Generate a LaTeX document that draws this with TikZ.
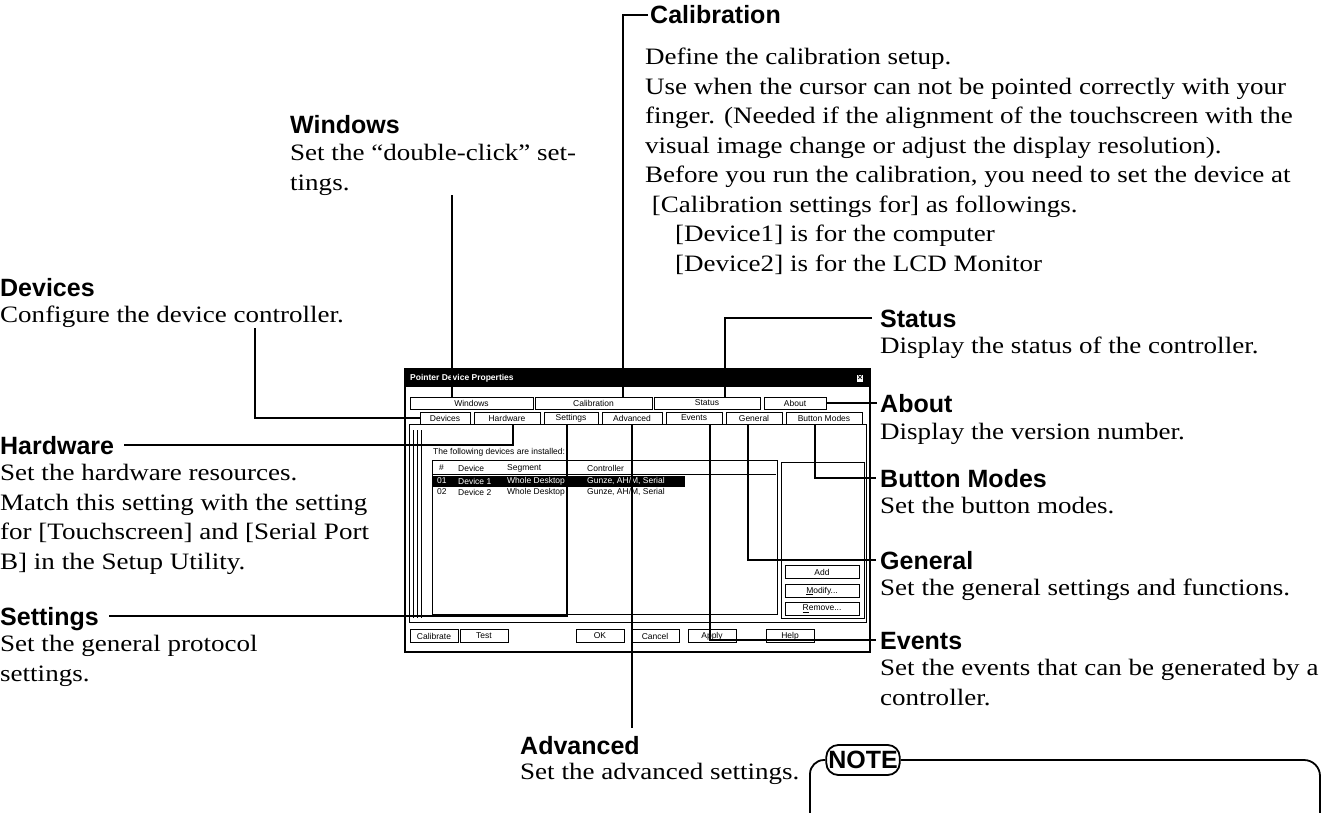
\documentclass[tikz,border=0pt]{standalone}
\usepackage{fontspec}
\setmainfont{Liberation Serif}[FakeStretch=1.15]
\newfontfamily\hsans{Liberation Sans}
\usetikzlibrary{positioning, calc}

\newcommand{\headfont}{\hsans\bfseries\fontsize{25}{28}\selectfont}
\newcommand{\bodyfont}{\rmfamily\fontsize{23.5}{29.5}\selectfont}
\newcommand{\dlgfont}{\hsans\fontsize{8.5}{9}\selectfont}

\tikzset{
  every picture/.style={x=1pt, y=-1pt},
  head/.style={font=\headfont, anchor=base west, inner sep=0pt, text height=18pt, text depth=0pt},
  body/.style={font=\bodyfont, anchor=north west, align=left, inner sep=0pt},
  lead/.style={line width=1.8pt},
  tab/.style={draw, line width=0.7pt, font=\dlgfont, inner sep=0pt, minimum height=12pt, minimum width=#1},
  tab/.default=56pt,
  btn/.style={draw, line width=0.9pt, font=\dlgfont, inner sep=0pt, minimum height=13pt, minimum width=#1},
  btn/.default=50pt,
  cell/.style={font=\dlgfont, anchor=west, inner sep=0pt},
}

\begin{document}
\begin{tikzpicture}
\useasboundingbox (0,0) rectangle (1338,813);

% the dialog
\draw[line width=1.2pt] (405,369) rectangle (870,652);
\fill (406,370) rectangle (869,387);
\node[cell, text=white, font=\dlgfont\bfseries] (dlgT) at (410,378.5) {Pointer Device Properties};
\node[fill=white, inner sep=0.6pt, font=\dlgfont\bfseries] (dlgX) at (860,378.5) {×};

\foreach \n/\t/\x/\w in {tWin/Windows/471.5/123, tCal/Calibration/593.5/117, tSta/Status/707/106, tAbo/About/795/62}
  \node[tab=\w pt] (\n) at (\x,403) {\t};
\foreach \n/\t/\x/\w in {tDev/Devices/445/50, tHw/Hardware/507/66, tSet/Settings/571/54, tAdv/Advanced/632/60,
                         tEv/Events/694/56, tGen/General/754/56, tBm/Button Modes/824/76}
  \node[tab=\w pt, fill=white] (\n) at (\x,418) {\t};

\draw[line width=0.8pt] (409,424.5) rectangle (866,622);
\draw[line width=0.6pt] (413,430) -- (413,618) (417,430) -- (417,618) (421,430) -- (421,618);
\node[cell] (lbl) at (433,452) {The following devices are installed:};
\draw[line width=0.9pt] (432,460) rectangle (777,614);
\foreach \t/\x [count=\i] in {\#/439, Device/458, Segment/507, Controller/587}
  \node[cell] (hd\i) at (\x,468) {\t};
\draw[line width=0.5pt] (433,474.5) -- (776,474.5);
\fill (433,475.5) rectangle (685,486.5);
\foreach \t/\x [count=\i] in {01/437, Device 1/458, Whole Desktop/507, {Gunze, AH/M, Serial}/587}
  \node[cell, text=white] (ra\i) at (\x,481) {\t};
\foreach \t/\x [count=\i] in {02/437, Device 2/458, Whole Desktop/507, {Gunze, AH/M, Serial}/587}
  \node[cell] (rb\i) at (\x,492) {\t};
\draw[line width=0.6pt] (781,462) rectangle (864,618);
\node[btn=74pt] (bAdd) at (822,572) {Add};
\node[btn=74pt] (bMod) at (822,591) {\underline{M}odify...};
\node[btn=74pt] (bRem) at (822,609) {\underline{R}emove...};
\foreach \n/\t/\x in {bCal/Calibrate/434, bTest/Test/484, bOK/OK/600, bCan/Cancel/655, bApp/Apply/712, bHelp/Help/790}
  \node[btn=48pt] (\n) at (\x,636) {\t};

% callouts on the left
\node[head] (devH) at (0,296) {Devices};
\node[body] (devB) at (0,306) {Configure the device controller.};
\node[head] (hwH) at (0,454) {Hardware};
\node[body] (hwB) at (0,464) {Set the hardware resources.\\Match this setting with the setting\\for [Touchscreen] and [Serial Port\\B] in the Setup Utility.};
\node[head] (setH) at (0,625) {Settings};
\node[body] (setB) at (0,635) {Set the general protocol\\settings.};

% callouts on top
\node[head] (winH) at (290,134) {Windows};
\node[body] (winB) at (290,144) {Set the “double-click” set-\\tings.};
\node[head] (calH) at (650,24) {Calibration};
\node[body] (calB) at (645,48) {Define the calibration setup.\\
Use when the cursor can not be pointed correctly with your\\
finger. (Needed if the alignment of the touchscreen with the\\
visual image change or adjust the display resolution).\\
Before you run the calibration, you need to set the device at\\{}
[Calibration settings for] as followings.\\
\hspace*{30pt}[Device1] is for the computer\\
\hspace*{30pt}[Device2] is for the LCD Monitor};

% callouts on the right
\node[head] (staH) at (880,327) {Status};
\node[body] (staB) at (880,337) {Display the status of the controller.};
\node[head] (aboH) at (880,412) {About};
\node[body] (aboB) at (880,423) {Display the version number.};
\node[head] (bmH) at (880,487) {Button Modes};
\node[body] (bmB) at (880,497) {Set the button modes.};
\node[head] (genH) at (880,569) {General};
\node[body] (genB) at (880,579) {Set the general settings and functions.};
\node[head] (evH) at (880,649) {Events};
\node[body] (evB) at (880,659) {Set the events that can be generated by a\\controller.};

% callout below
\node[head] (advH) at (520,754) {Advanced};
\node[body] (advB) at (520,763) {Set the advanced settings.};

% leaders
\draw[lead] ([xshift=-2pt]calH.west) -| ([xshift=29.5pt]tCal.north);
\draw[lead] ([xshift=162pt]winB.south west) -- ([xshift=-19.5pt]tWin.north);
\draw[lead] ([xshift=-8pt]staH.west) -| ([xshift=18pt]tSta.north);
\draw[lead] (tAbo.east |- aboH.west) -- ([xshift=-3pt]aboH.west);
\draw[lead] ([xshift=-9pt]tBm.south) |- ([xshift=-4pt]bmH.west);
\draw[lead] ([xshift=-6pt]tGen.south) |- ([xshift=-4pt]genH.west);
\draw[lead] ([xshift=16pt]tEv.south) |- ([xshift=-4pt]evH.west);
\draw[lead, shorten >=8pt] (tAdv.south) -- (tAdv.south |- advH.north);
\draw[lead] ([xshift=255pt]devB.south west) |- (tDev.west);
\draw[lead] ([xshift=10pt]hwH.east) -| ([xshift=6pt]tHw.south);
\draw[lead] ([xshift=10pt]setH.east) -| ([xshift=-4pt]tSet.south);

% note frame
\node[draw, lead, rounded corners=12pt, minimum width=73pt, minimum height=30pt, inner sep=2pt, font=\headfont] (note) at (863,760) {NOTE};
\coordinate (noteR) at (1320,813);
\coordinate (noteL) at (810,813);
\draw[lead, rounded corners=16pt] (note.east) -| (noteR);
\draw[lead, rounded corners=14pt] (note.west) -| (noteL);
\end{tikzpicture}
\end{document}
